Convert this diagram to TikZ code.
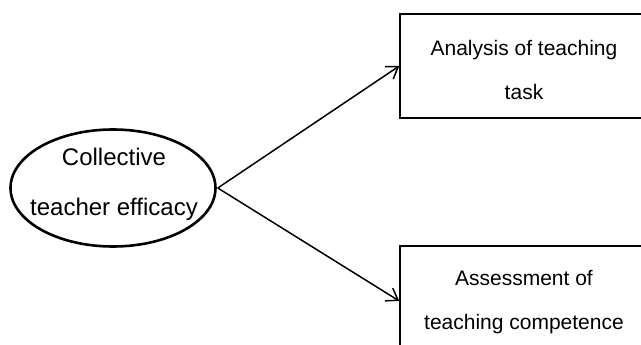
\documentclass[tikz,border=0pt]{standalone}
\usepackage{fontspec}
\setmainfont{Liberation Sans}
\usetikzlibrary{shapes.geometric,arrows.meta}
\begin{document}
\begin{tikzpicture}[x=1pt,y=-1pt,
  line width=1.5pt,
  factor/.style={draw,ellipse,line width=2.6pt,minimum width=205pt,minimum height=117pt,inner sep=0pt},
  itembox/.style={draw,rectangle,minimum width=248pt,inner sep=0pt},
  factortext/.style={align=center,inner sep=0pt,font=\fontsize{24}{50}\selectfont},
  itemtext/.style={align=center,inner sep=0pt,font=\fontsize{21}{44}\selectfont},
  arr/.style={-{Straight Barb[length=11pt,width=15pt,line width=1.5pt]}}]
  \useasboundingbox (0,0) rectangle (641,345);
  \clip (0,0) rectangle (641,345);
  % latent factor
  \node[factor] (cte) at (113,188) {};
  \node[factortext] (ctetext) at (114,184) {Collective\\teacher efficacy};
  % indicator boxes
  \node[itembox,minimum height=104pt] (task) at (524,66) {};
  \node[itembox,minimum height=110pt] (comp) at (524,301) {};
  \node[itemtext] (tasktext) at (524,70) {Analysis of teaching\\task};
  \node[itemtext] (comptext) at (524,302) {Assessment of\\teaching competence};
  % paths
  \draw[arr] ([xshift=1pt]cte.east) -- (task.west);
  \draw[arr] ([xshift=1pt]cte.east) -- (comp.west);
\end{tikzpicture}
\end{document}
